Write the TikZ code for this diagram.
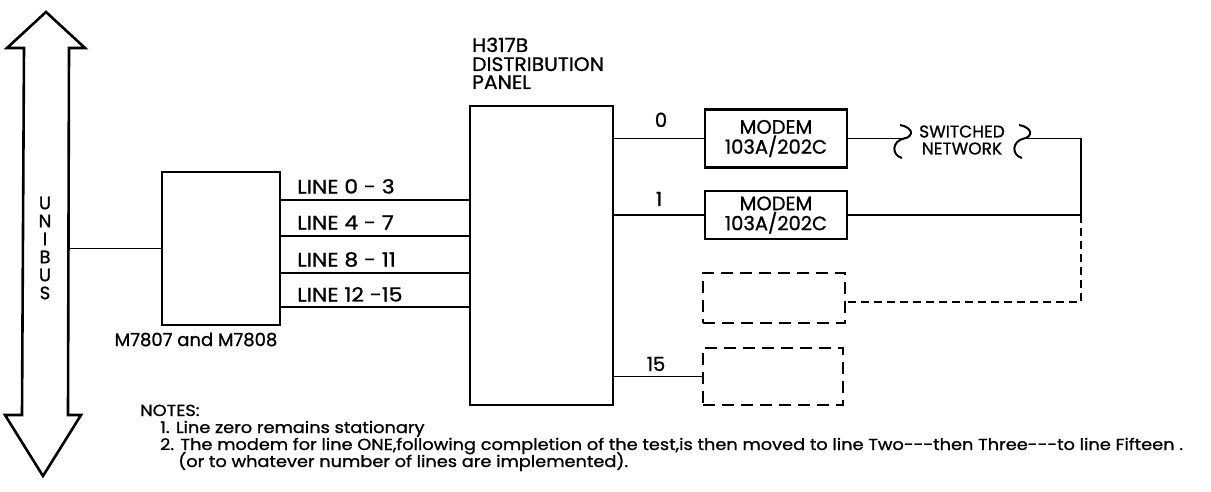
\documentclass[tikz,border=0pt]{standalone}
\usepackage{graphicx}
\usepackage{fontspec}
\setmainfont{Poppins}[FakeBold=1]
\usetikzlibrary{calc}
\newcommand\hsc[2]{\scalebox{#1}[1]{#2}}
\begin{document}
\begin{tikzpicture}[x=1pt,y=-1pt,
  box/.style={draw,line width=2.6pt,inner sep=0pt},
  dbox/.style={draw,line width=2.6pt,inner sep=0pt,dash pattern=on 12pt off 7pt},
  wire/.style={line width=1.6pt},
  dwire/.style={line width=1.8pt,dash pattern=on 8pt off 5pt},
  lbl/.style={font=\fontsize{19.5}{20}\selectfont,inner sep=0pt},
  note/.style={font=\fontsize{16}{17}\selectfont,inner sep=0pt,anchor=base west}]
\useasboundingbox (0,0) rectangle (1211,492);
% UNIBUS double arrow
\draw[line width=2.6pt,line join=miter] (24,48) -- (7,48) -- (46,12) -- (85,48) -- (69,48)
  -- (68,415) -- (81,415) -- (43,476) -- (5,415) -- (22,415) -- cycle;
\node[lbl,align=center,font=\fontsize{18}{18}\selectfont] (ubtxt) at (45,248) {U\\N\\I\\B\\U\\S};
\coordinate (ub) at (68.5,248.5);
% boxes
\node[box,minimum width=118pt,minimum height=153pt] (m) at (221,248.5) {};
\node[lbl,anchor=base,font=\fontsize{18}{18}\selectfont] (mlbl) at (196,346) {M7807 and M7808};
\node[box,minimum width=143pt,minimum height=299pt] (p) at (541.5,255.5) {};
\node[lbl,anchor=base west] (plbl1) at (472,52) {\hsc{1.04}{H317B}};
\node[lbl,anchor=base west] (plbl2) at (472,71) {\hsc{1.04}{DISTRIBUTION}};
\node[lbl,anchor=base west] (plbl3) at (472,89) {\hsc{1.04}{PANEL}};
\node[box,minimum width=142pt,minimum height=58pt,align=center,font=\fontsize{19.5}{20}\selectfont] (md1) at (776,138.5) {MODEM\\103A/202C};
\node[box,minimum width=142pt,minimum height=48pt,align=center,font=\fontsize{19.5}{20}\selectfont] (md2) at (776,215) {MODEM\\103A/202C};
\node[dbox,minimum width=142pt,minimum height=50pt] (d3) at (774,298) {};
\node[dbox,minimum width=140pt,minimum height=57pt] (d4) at (773,376.5) {};
% unibus to M7807
\draw[wire] (ub) -- (ub -| m.west);
% lines
\coordinate (l1) at (0,200);
\coordinate (l2) at (0,236);
\coordinate (l3) at (0,273);
\coordinate (l4) at (0,307);
\draw[wire] (m.east |- l1) -- (p.west |- l1);
\draw[wire] (m.east |- l2) -- (p.west |- l2);
\draw[wire] (m.east |- l3) -- (p.west |- l3);
\draw[wire] (m.east |- l4) -- (p.west |- l4);
\node[lbl,anchor=base west] (t1) at (297,193.5) {\hsc{1.12}{LINE 0 - 3}};
\node[lbl,anchor=base west] (t2) at (297,229.5) {\hsc{1.12}{LINE 4 - 7}};
\node[lbl,anchor=base west] (t3) at (297,266.5) {\hsc{1.12}{LINE 8 - 11}};
\node[lbl,anchor=base west] (t4) at (297,301.5) {\hsc{1.12}{LINE 12 -15}};
% panel to modems
\draw[wire] (p.east |- md1.west) -- (md1.west);
\draw[wire] (p.east |- md2.west) -- (md2.west);
\draw[wire] (p.east |- d4.west) -- (d4.west);
\node[lbl,anchor=base] (n0) at (661,127) {0};
\node[lbl,anchor=base] (n1) at (659,206) {1};
\node[lbl,anchor=base] (n15) at (656,371) {15};
% switched network
\node[lbl,align=center,font=\fontsize{17}{17}\selectfont] (sw) at (962,140) {SWITCHED\\NETWORK};
\coordinate (swl) at (904,138.5);
\coordinate (swr) at (1024,138.5);
\draw[wire] (md1.east) -- (swl);
\draw[line width=2pt] (900,125) .. controls (915,128) and (913,137) .. (swl)
  .. controls (892,141) and (891,155) .. (902,158);
\draw[line width=2pt] (1019,125) .. controls (1034,128) and (1032,137) .. (swr)
  .. controls (1012,141) and (1011,155) .. (1022,158);
\coordinate (c1) at (1081,215);
\coordinate (c2) at (1081,302);
\draw[wire] (swr) -| (c1);
\draw[wire] (md2.east) -- (c1);
\draw[dwire] (c1) -- (c2) -- (d3.east |- c2);
% notes
\node[note] (notes) at (140,416) {\hsc{1.11}{NOTES:}};
\node[note] (note1) at (160,433) {\hsc{1.11}{1. Line zero remains stationary}};
\node[note] (note2) at (160,450) {\hsc{1.11}{2. The modem for line ONE,following completion of the test,is then moved to line Two-{}-{}-then Three-{}-{}-to line Fifteen .}};
\node[note] (note3) at (178,467) {\hsc{1.11}{(or to whatever number of lines are implemented).}};
\end{tikzpicture}
\end{document}
